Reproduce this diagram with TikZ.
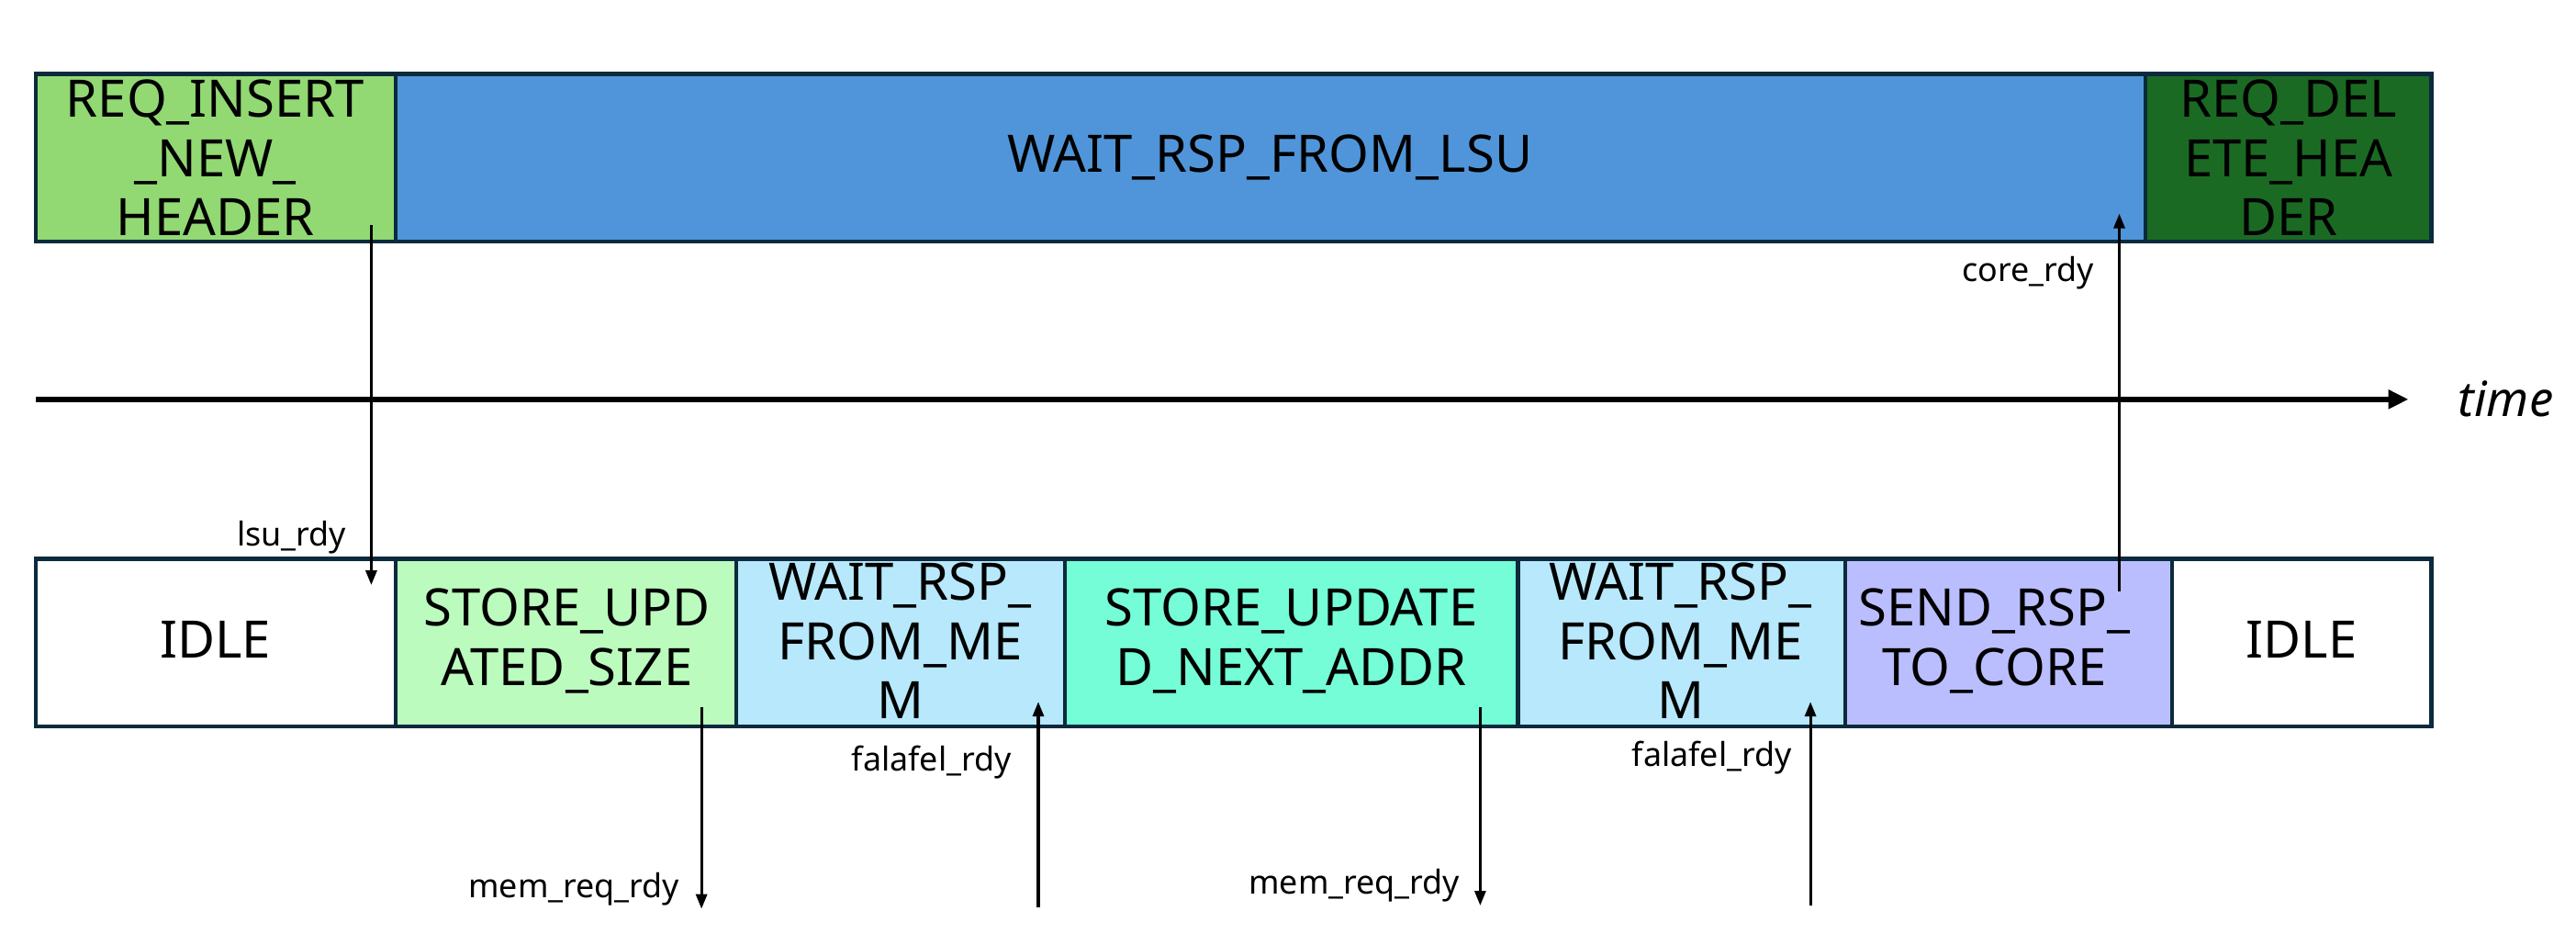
\documentclass[tikz,border=0pt]{standalone}
\usepackage{fontspec}
\setmainfont{Noto Sans}
\usetikzlibrary{fit,arrows.meta}
\definecolor{edgec}{HTML}{0B2A3C}
\definecolor{cInsert}{HTML}{92D973}
\definecolor{cLsu}{HTML}{5095D9}
\definecolor{cDelete}{HTML}{1B6A23}
\definecolor{cSize}{HTML}{BBFBBE}
\definecolor{cMem}{HTML}{B7E8FC}
\definecolor{cAddr}{HTML}{74FDD6}
\definecolor{cSend}{HTML}{BABEFE}
\tikzset{
  statebox/.style={draw=edgec, line width=1.2pt, inner sep=0pt, outer sep=0pt},
  statetext/.style={align=center, inner sep=0pt, font=\fontsize{16}{18.3}\selectfont},
  siglabel/.style={anchor=east, inner sep=0pt, font=\fontsize{10.2}{12}\selectfont},
  sigarrow/.style={line width=0.9pt, -{Triangle[length=0.16cm,width=0.12cm]}},
}
\begin{document}
\begin{tikzpicture}[x=0.017895cm, y=-0.017895cm]
\useasboundingbox (0,0) rectangle (1568,575);
% top row
\node[statebox, fill=cInsert, fit={(22,45) (241,147)}] (ins) {};
\node[statebox, fill=cLsu, fit={(241,45) (1306,147)}] (lsu) {};
\node[statebox, fill=cDelete, fit={(1306,45) (1480,147)}] (del) {};
\node[statetext] (insT) at (131,96) {REQ\_INSERT\\\_NEW\_\\HEADER};
\node[statetext] (lsuT) at (773,96) {WAIT\_RSP\_FROM\_LSU};
\node[statetext] (delT) at (1393,96) {REQ\_DEL\\ETE\_HEA\\DER};
% time axis
\coordinate (t0) at (22,243);
\coordinate (t1) at (1466,243);
\draw[line width=1.8pt, -{Triangle[length=0.22cm,width=0.2cm]}] (t0) -- (t1);
\node[anchor=west, inner sep=0pt, font=\fontsize{15}{18}\selectfont\itshape] (time) at (1496,243) {time};
% bottom row
\node[statebox, fill=white, fit={(22,340) (241,442)}] (idle1) {};
\node[statebox, fill=cSize, fit={(241,340) (448,442)}] (size) {};
\node[statebox, fill=cMem, fit={(448,340) (648,442)}] (mem1) {};
\node[statebox, fill=cAddr, fit={(648,340) (924,442)}] (addr) {};
\node[statebox, fill=cMem, fit={(924,340) (1123,442)}] (mem2) {};
\node[statebox, fill=cSend, fit={(1123,340) (1322,442)}] (send) {};
\node[statebox, fill=white, fit={(1322,340) (1480,442)}] (idle2) {};
\node[statetext] (idle1T) at (131,389) {IDLE};
\node[statetext] (sizeT) at (345,390) {STORE\_UPD\\ATED\_SIZE};
\node[statetext] (mem1T) at (548,390) {WAIT\_RSP\_\\FROM\_ME\\M};
\node[statetext] (addrT) at (786,390) {STORE\_UPDATE\\D\_NEXT\_ADDR};
\node[statetext] (mem2T) at (1023,390) {WAIT\_RSP\_\\FROM\_ME\\M};
\node[statetext] (sendT) at (1214,390) {SEND\_RSP\_\\TO\_CORE};
\node[statetext] (idle2T) at (1401,389) {IDLE};
% signal arrows
\coordinate (lsuA) at (226,137);  \coordinate (lsuB) at (226,356);
\coordinate (coreA) at (1290,360); \coordinate (coreB) at (1290,130);
\coordinate (mrA) at (427,430);   \coordinate (mrB) at (427,553);
\coordinate (frA) at (632,552);   \coordinate (frB) at (632,427);
\coordinate (mrC) at (901,430);   \coordinate (mrD) at (901,551);
\coordinate (frC) at (1102,551);  \coordinate (frD) at (1102,427);
\draw[sigarrow] (lsuA) -- (lsuB);
\draw[sigarrow] (coreA) -- (coreB);
\draw[sigarrow] (mrA) -- (mrB);
\draw[sigarrow] (frA) -- (frB);
\draw[sigarrow] (mrC) -- (mrD);
\draw[sigarrow] (frC) -- (frD);
\node[siglabel] (lsuL) at (211,327) {lsu\_rdy};
\node[siglabel] (coreL) at (1275,166) {core\_rdy};
\node[siglabel] (mrL1) at (414,541) {mem\_req\_rdy};
\node[siglabel] (frL1) at (616,464) {falafel\_rdy};
\node[siglabel] (mrL2) at (889,539) {mem\_req\_rdy};
\node[siglabel] (frL2) at (1091,461) {falafel\_rdy};
\end{tikzpicture}
\end{document}
